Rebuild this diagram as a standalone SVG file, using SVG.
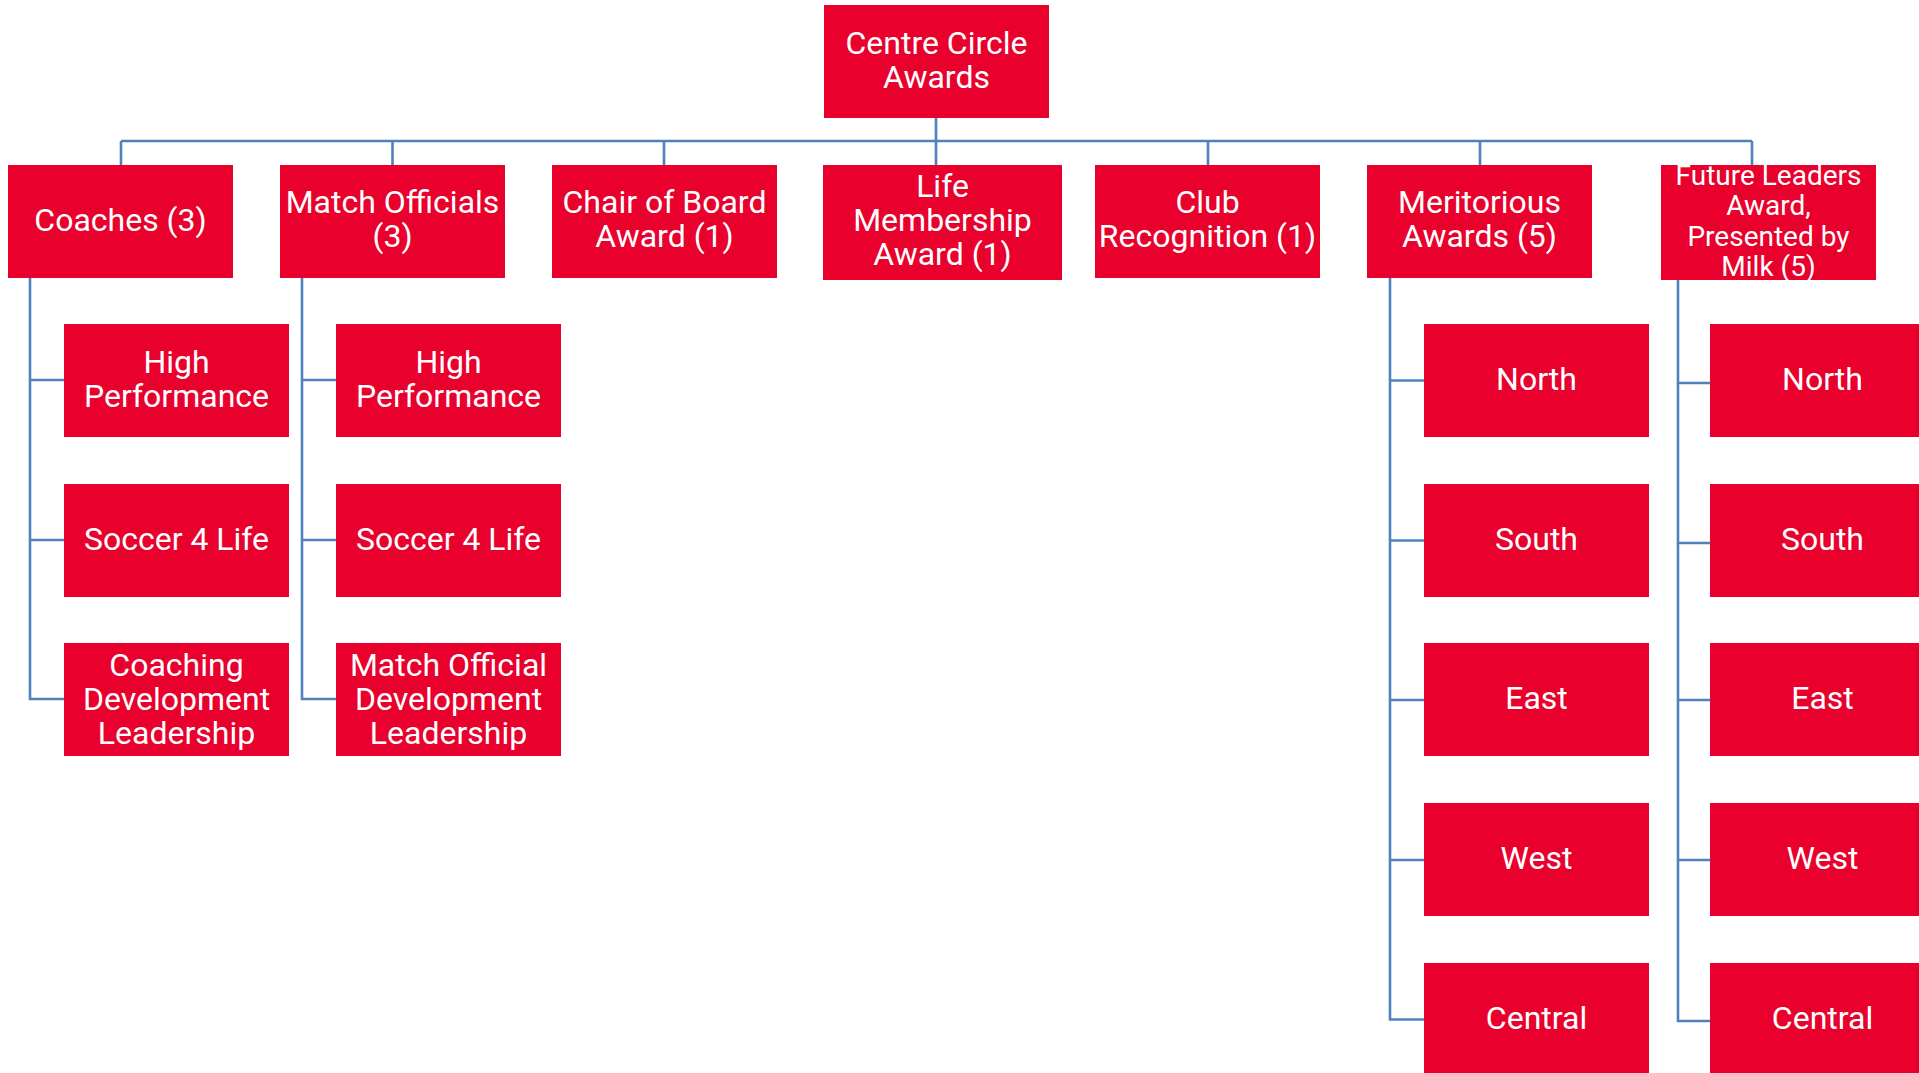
<svg xmlns="http://www.w3.org/2000/svg" width="1919" height="1073" viewBox="0 0 1919 1073">
<style>
.b{fill:#e9002c}
.t{font-family:Roboto,"Liberation Sans",sans-serif;font-size:32px;fill:#ffffff;text-anchor:middle}
.s{font-size:28px}
.c{fill:none;stroke:#4f81bd;stroke-width:2.6}
</style>
<rect width="1919" height="1073" fill="#ffffff"/>
<g id="connectors" class="c">
<path d="M936 118V165M121 141H1752M121 141V165M392.5 141V165M664 141V165M1208 141V165M1480 141V165M1752 141V165"/>
<path d="M30 278V699H64M30 380H64M30 540H64"/>
<path d="M302 278V699H336M302 380H336M302 540H336"/>
<path d="M1390 278V1019.5H1424M1390 380.5H1424M1390 540.5H1424M1390 700H1424M1390 860H1424"/>
<path d="M1678 280V1021H1710M1678 383H1710M1678 543H1710M1678 700H1710M1678 860H1710"/>
</g>
<g id="root"><rect class="b" x="824" y="5" width="225" height="113"/><text class="t" x="936.5"><tspan x="936.5" y="54">Centre Circle</tspan><tspan x="936.5" y="88">Awards</tspan></text></g>
<g id="coaches"><rect class="b" x="8" y="165" width="225" height="113"/><text class="t" x="120.5" y="231">Coaches (3)</text></g>
<g id="match-officials"><rect class="b" x="280" y="165" width="225" height="113"/><text class="t"><tspan x="392.5" y="213">Match Officials</tspan><tspan x="392.5" y="247">(3)</tspan></text></g>
<g id="chair"><rect class="b" x="552" y="165" width="225" height="113"/><text class="t"><tspan x="664.5" y="213">Chair of Board</tspan><tspan x="664.5" y="247">Award (1)</tspan></text></g>
<g id="life"><rect class="b" x="823" y="165" width="239" height="115"/><text class="t"><tspan x="942.5" y="197">Life</tspan><tspan x="942.5" y="231">Membership</tspan><tspan x="942.5" y="265">Award (1)</tspan></text></g>
<g id="club"><rect class="b" x="1095" y="165" width="225" height="113"/><text class="t"><tspan x="1207.5" y="213">Club</tspan><tspan x="1207.5" y="247">Recognition (1)</tspan></text></g>
<g id="meritorious"><rect class="b" x="1367" y="165" width="225" height="113"/><text class="t"><tspan x="1479.5" y="213">Meritorious</tspan><tspan x="1479.5" y="247">Awards (5)</tspan></text></g>
<g id="future"><rect class="b" x="1661" y="165" width="215" height="115"/><text class="t s"><tspan x="1768.5" y="184.5">Future Leaders</tspan><tspan x="1768.5" y="215">Award,</tspan><tspan x="1768.5" y="245.5">Presented by</tspan><tspan x="1768.5" y="276">Milk (5)</tspan></text></g>
<g id="coaches-hp"><rect class="b" x="64" y="324" width="225" height="113"/><text class="t"><tspan x="176.5" y="373">High</tspan><tspan x="176.5" y="407">Performance</tspan></text></g>
<g id="coaches-s4l"><rect class="b" x="64" y="484" width="225" height="113"/><text class="t" x="176.5" y="550">Soccer 4 Life</text></g>
<g id="coaches-dev"><rect class="b" x="64" y="643" width="225" height="113"/><text class="t"><tspan x="176.5" y="676">Coaching</tspan><tspan x="176.5" y="710">Development</tspan><tspan x="176.5" y="744">Leadership</tspan></text></g>
<g id="mo-hp"><rect class="b" x="336" y="324" width="225" height="113"/><text class="t"><tspan x="448.5" y="373">High</tspan><tspan x="448.5" y="407">Performance</tspan></text></g>
<g id="mo-s4l"><rect class="b" x="336" y="484" width="225" height="113"/><text class="t" x="448.5" y="550">Soccer 4 Life</text></g>
<g id="mo-dev"><rect class="b" x="336" y="643" width="225" height="113"/><text class="t"><tspan x="448.5" y="676">Match Official</tspan><tspan x="448.5" y="710">Development</tspan><tspan x="448.5" y="744">Leadership</tspan></text></g>
<g id="mer-north"><rect class="b" x="1424" y="324" width="225" height="113"/><text class="t" x="1536.5" y="390">North</text></g>
<g id="mer-south"><rect class="b" x="1424" y="484" width="225" height="113"/><text class="t" x="1536.5" y="550">South</text></g>
<g id="mer-east"><rect class="b" x="1424" y="643" width="225" height="113"/><text class="t" x="1536.5" y="709">East</text></g>
<g id="mer-west"><rect class="b" x="1424" y="803" width="225" height="113"/><text class="t" x="1536.5" y="869">West</text></g>
<g id="mer-central"><rect class="b" x="1424" y="963" width="225" height="113"/><text class="t" x="1536.5" y="1029">Central</text></g>
<g id="fut-north"><rect class="b" x="1710" y="324" width="225" height="113"/><text class="t" x="1822.5" y="390">North</text></g>
<g id="fut-south"><rect class="b" x="1710" y="484" width="225" height="113"/><text class="t" x="1822.5" y="550">South</text></g>
<g id="fut-east"><rect class="b" x="1710" y="643" width="225" height="113"/><text class="t" x="1822.5" y="709">East</text></g>
<g id="fut-west"><rect class="b" x="1710" y="803" width="225" height="113"/><text class="t" x="1822.5" y="869">West</text></g>
<g id="fut-central"><rect class="b" x="1710" y="963" width="225" height="113"/><text class="t" x="1822.5" y="1029">Central</text></g>
</svg>
